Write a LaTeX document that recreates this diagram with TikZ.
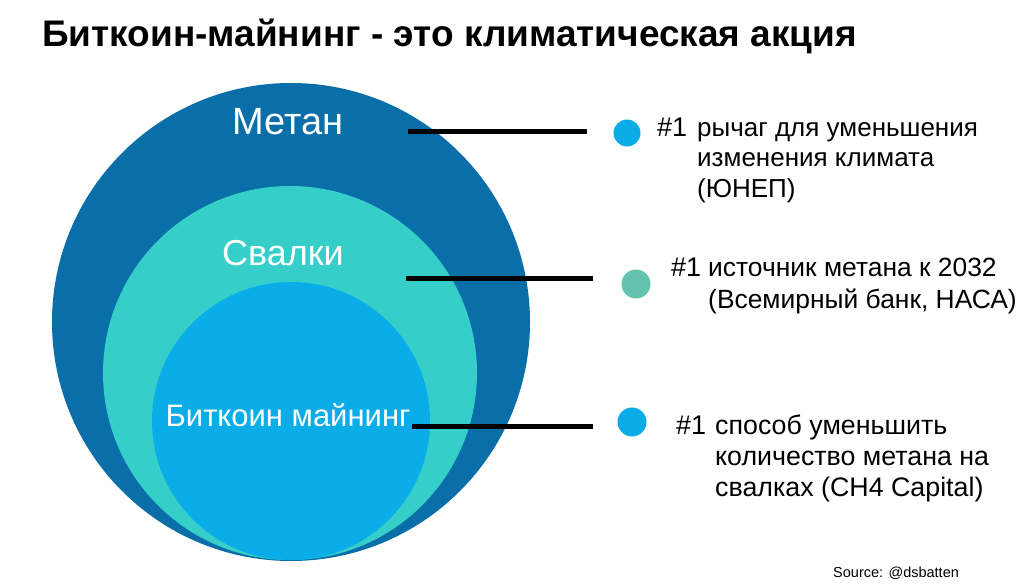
\documentclass[tikz,border=0pt]{standalone}
\usepackage{fontspec}
\setmainfont{Liberation Sans}
\usetikzlibrary{positioning}
\definecolor{metanblue}{RGB}{10,110,168}
\definecolor{svalkiteal}{RGB}{54,206,200}
\definecolor{btcblue}{RGB}{10,173,232}
\definecolor{dotteal}{RGB}{100,195,175}

\begin{document}
\begin{tikzpicture}[
      x=1pt, y=-1pt,
      ring/.style={circle, inner sep=0pt},
      dot/.style={circle, inner sep=0pt, minimum size=29pt},
      lead/.style={line width=5pt, shorten >=40pt},
      num/.style={anchor=base west, inner sep=0pt, font=\fontsize{27}{30}\selectfont},
      note/.style={anchor=base west, inner sep=0pt, align=left, font=\fontsize{26}{30.5}\selectfont}
    ]
      \useasboundingbox (0,0) rectangle (1024,583);
      \node[anchor=base west, inner sep=0pt, font=\fontsize{37}{37}\bfseries] (title) at (42,47)
        {Биткоин-майнинг - это климатическая акция};

      % nested circles
      \node[ring, fill=metanblue, minimum size=478pt] (metan) at (291,322) {};
      \node[ring, fill=svalkiteal, minimum size=374pt] (svalki) at (290,373) {};
      \node[ring, fill=btcblue, minimum size=278pt] (btc) at (291,421) {};
      \node[white, font=\fontsize{38}{38}\selectfont] (lmetan) at (288,122) {Метан};
      \node[white, font=\fontsize{36}{36}\selectfont] (lsvalki) at (283,253) {Свалки};
      \node[white, font=\fontsize{31}{31}\selectfont] (lbtc) at (288,415) {Биткоин майнинг};

      % dots and notes (base = last line)
      \node[dot, fill=btcblue, minimum size=27pt] (d1) at (627,133) {};
      \node[dot, fill=dotteal] (d2) at (636,284) {};
      \node[dot, fill=btcblue] (d3) at (632,422) {};

      \node[num] (n1) at (657,136) {\#1};
      \node[note] (t1) at (697,197) {рычаг для уменьшения\\изменения климата\\(ЮНЕП)};
      \node[num] (n2) at (671,276) {\#1};
      \node[note, font=\fontsize{26.4}{32}\selectfont] (t2) at (708,308) {источник метана к 2032\\(Всемирный банк, НАСА)};
      \node[num] (n3) at (676,434) {\#1};
      \node[note, font=\fontsize{26.8}{31}\selectfont] (t3) at (715,496) {способ уменьшить\\количество метана на\\свалках (CH4 Capital)};

      \coordinate (s1) at (408,131);
      \coordinate (s2) at (406,278);
      \coordinate (s3) at (412,426);
      \draw[lead] (s1) -- (s1 -| d1);
      \draw[lead, shorten >=43pt] (s2) -- (s2 -| d2);
      \draw[lead, shorten >=39pt] (s3) -- (s3 -| d3);

      \node[anchor=base west, inner sep=0pt, font=\fontsize{14.5}{14.5}\selectfont] (src) at (833,577) {Source: @dsbatten};
    \end{tikzpicture}
\end{document}
